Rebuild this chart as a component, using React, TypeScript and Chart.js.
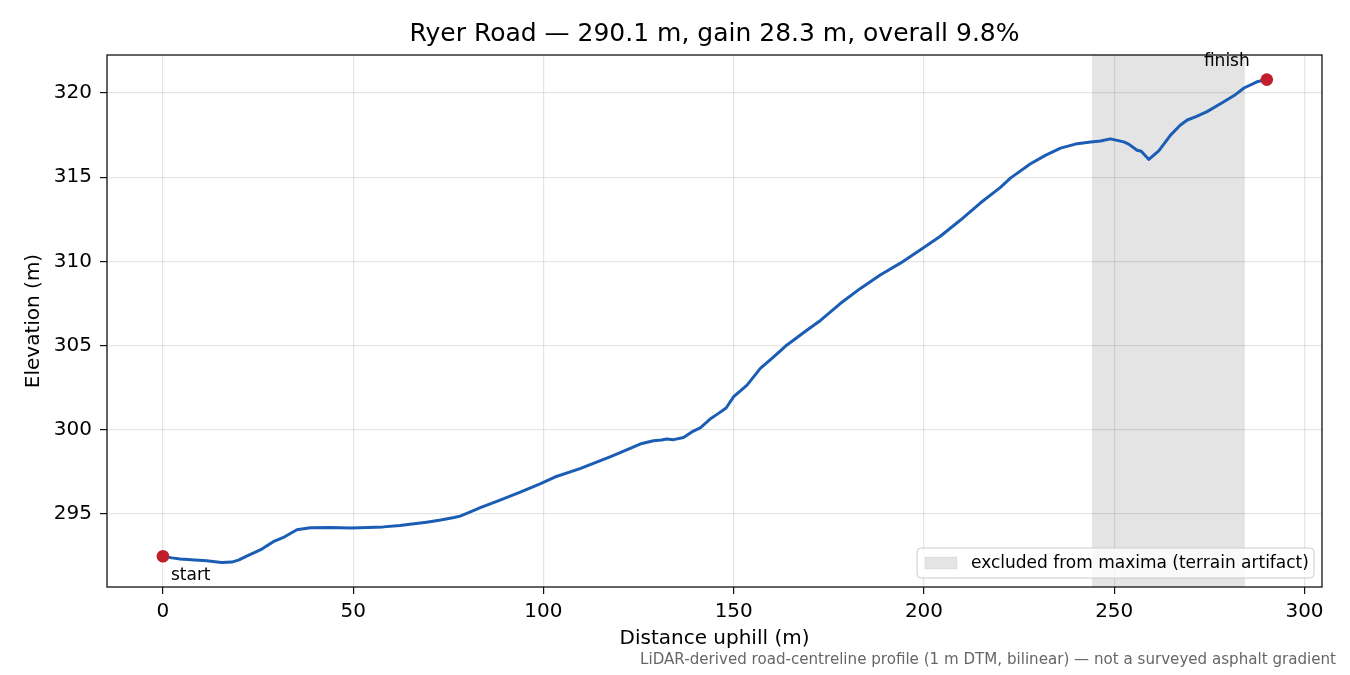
import { FC, useEffect, useRef } from 'react';
import Chart, { ChartConfiguration, Plugin } from 'chart.js/auto';

// profile (distance uphill m, elevation m)
const distance = [
  0, 2.4, 4.5, 8.4, 11.5, 15.4, 18.1, 20, 22, 26, 29, 32, 35.2, 38.7, 44, 49.2, 54, 57.9, 62.3, 66,
  69.3, 73, 76.5, 78.1, 80.5, 83.4, 88.6, 93.9, 99.1, 103, 109.6, 117.5, 122.8, 125.4, 128.9, 131,
  132.4, 134.2, 136.8, 139.4, 141.2, 143.8, 146, 148, 150, 153.5, 157, 160.5, 164, 169.3, 172.8,
  178, 183.3, 188.5, 193.8, 199, 204.3, 209.6, 214.8, 220.1, 222.7, 228, 231.9, 235.9, 239.8,
  243.8, 246.4, 249, 252.5, 253.8, 256, 257.1, 259.1, 261.7, 264.8, 267.4, 269.2, 271.5, 274.4,
  278.8, 281.5, 284.1, 287.5, 290.1,
];
const elevation = [
  292.5, 292.4, 292.33, 292.27, 292.23, 292.13, 292.15, 292.28, 292.5, 292.92, 293.36, 293.65,
  294.07, 294.19, 294.2, 294.17, 294.2, 294.24, 294.32, 294.42, 294.52, 294.65, 294.8, 294.88,
  295.1, 295.38, 295.83, 296.3, 296.8, 297.2, 297.7, 298.4, 298.9, 299.16, 299.35, 299.4, 299.46,
  299.42, 299.55, 299.93, 300.12, 300.64, 300.98, 301.3, 301.97, 302.66, 303.65, 304.34, 305.04,
  305.93, 306.5, 307.5, 308.4, 309.2, 309.9, 310.68, 311.5, 312.46, 313.47, 314.4, 314.95, 315.8,
  316.3, 316.73, 316.97, 317.1, 317.15, 317.28, 317.1, 316.97, 316.6, 316.54, 316.06, 316.57,
  317.5, 318.1, 318.4, 318.6, 318.9, 319.48, 319.85, 320.3, 320.67, 320.8,
];
const endpointLabels = ['start', 'finish'];
const excludedRange = [244.3, 284.2];
const xTicks = [0, 50, 100, 150, 200, 250, 300];
const yTicks = [295, 300, 305, 310, 315, 320];

const titleText = 'Ryer Road — 290.1 m, gain 28.3 m, overall 9.8%';
const xLabel = 'Distance uphill (m)';
const yLabel = 'Elevation (m)';
const legendText = 'excluded from maxima (terrain artifact)';
const footnote =
  'LiDAR-derived road-centreline profile (1 m DTM, bilinear) — not a surveyed asphalt gradient';

const FONT = '"DejaVu Sans", sans-serif';
const BAND = 'rgba(0,0,0,0.105)';

const decor: Plugin<'line'> = {
  id: 'decor',
  beforeDatasetsDraw(chart) {
    const { ctx, chartArea: a, scales } = chart;
    const x0 = scales.x.getPixelForValue(excludedRange[0]);
    const x1 = scales.x.getPixelForValue(excludedRange[1]);
    ctx.save();
    ctx.fillStyle = BAND;
    ctx.fillRect(x0, a.top, x1 - x0, a.bottom - a.top);
    ctx.strokeStyle = 'rgba(0,0,0,0.06)';
    ctx.lineWidth = 1;
    ctx.beginPath();
    ctx.moveTo(x0, a.top);
    ctx.lineTo(x0, a.bottom);
    ctx.moveTo(x1, a.top);
    ctx.lineTo(x1, a.bottom);
    ctx.stroke();
    ctx.restore();
  },
  afterDatasetsDraw(chart) {
    const { ctx, chartArea: a, scales } = chart;
    ctx.save();
    // frame
    ctx.strokeStyle = '#111';
    ctx.lineWidth = 1.3;
    ctx.strokeRect(a.left, a.top, a.right - a.left, a.bottom - a.top);

    // endpoint labels
    const n = distance.length - 1;
    ctx.fillStyle = '#000';
    ctx.font = `17px ${FONT}`;
    ctx.textBaseline = 'middle';
    ctx.textAlign = 'left';
    ctx.fillText(
      endpointLabels[0],
      scales.x.getPixelForValue(distance[0]) + 8,
      scales.y.getPixelForValue(elevation[0]) + 19
    );
    ctx.textAlign = 'center';
    ctx.fillText(
      endpointLabels[1],
      scales.x.getPixelForValue(distance[n]) - 40,
      scales.y.getPixelForValue(elevation[n]) - 18
    );

    // legend
    const w = 397;
    const h = 30;
    const lx = a.right - 8 - w;
    const ly = a.bottom - 9 - h;
    ctx.beginPath();
    ctx.roundRect(lx, ly, w, h, 4);
    ctx.fillStyle = 'rgba(255,255,255,0.8)';
    ctx.fill();
    ctx.strokeStyle = '#cccccc';
    ctx.lineWidth = 1;
    ctx.stroke();
    ctx.fillStyle = BAND;
    ctx.fillRect(lx + 8, ly + 9, 32, 12);
    ctx.strokeStyle = 'rgba(0,0,0,0.06)';
    ctx.strokeRect(lx + 8, ly + 9, 32, 12);
    ctx.fillStyle = '#000';
    ctx.textAlign = 'left';
    ctx.font = `17px ${FONT}`;
    ctx.fillText(legendText, lx + 54, ly + h / 2 + 1);
    ctx.restore();
  },
  afterDraw(chart) {
    const { ctx, chartArea: a } = chart;
    const cx = (a.left + a.right) / 2;
    ctx.save();
    ctx.fillStyle = '#000';
    ctx.textAlign = 'center';
    ctx.textBaseline = 'middle';
    ctx.font = `25px ${FONT}`;
    ctx.fillText(titleText, cx, 34);
    ctx.font = `20px ${FONT}`;
    ctx.fillText(xLabel, cx, 639);
    ctx.save();
    ctx.translate(34, (a.top + a.bottom) / 2);
    ctx.rotate(-Math.PI / 2);
    ctx.fillText(yLabel, 0, 0);
    ctx.restore();
    ctx.textAlign = 'right';
    ctx.fillStyle = '#666';
    ctx.font = `15.1px ${FONT}`;
    ctx.fillText(footnote, 1336, 660);
    ctx.restore();
  },
};

const App: FC = () => {
  const chartRef = useRef<HTMLCanvasElement | null>(null);
  const chartInstance = useRef<Chart | null>(null);

  useEffect(() => {
    document.body.style.margin = '0';
    if (chartRef.current) {
      const ctx = chartRef.current.getContext('2d');
      if (ctx) {
        if (chartInstance.current) {
          chartInstance.current.destroy();
        }
        const n = distance.length - 1;
        const gridStyle = {
          color: 'rgba(0,0,0,0.1)',
          lineWidth: 1.2,
          tickColor: '#111',
          tickLength: 7,
          tickWidth: 1.2,
        };
        chartInstance.current = new Chart(ctx, {
          type: 'line',
          data: {
            datasets: [
              {
                data: distance.map((d, i) => ({ x: d, y: elevation[i] })),
                borderColor: '#1b5db5',
                borderWidth: 3,
                pointRadius: 0,
                tension: 0,
                borderJoinStyle: 'round',
                borderCapStyle: 'round',
                order: 1,
              },
              {
                data: [
                  { x: distance[0], y: elevation[0] },
                  { x: distance[n], y: elevation[n] },
                ],
                showLine: false,
                pointRadius: 6.3,
                pointBackgroundColor: '#c21d2b',
                pointBorderWidth: 0,
                order: 0,
              },
            ],
          },
          options: {
            animation: false,
            responsive: true,
            maintainAspectRatio: false,
            devicePixelRatio: 1,
            layout: { padding: { top: 55, right: 28, left: 0, bottom: 0 } },
            plugins: {
              legend: { display: false },
              tooltip: { enabled: false },
              title: { display: false },
            },
            scales: {
              x: {
                type: 'linear',
                min: -14.7,
                max: 304.6,
                afterFit: (s: any) => {
                  s.height = 88;
                },
                afterBuildTicks: (s: any) => {
                  s.ticks = xTicks.map((v) => ({ value: v }));
                },
                grid: gridStyle,
                border: { display: false },
                ticks: {
                  font: { family: FONT, size: 20 },
                  color: '#000',
                  padding: 6,
                  maxRotation: 0,
                },
              },
              y: {
                type: 'linear',
                min: 290.67,
                max: 322.26,
                afterFit: (s: any) => {
                  s.width = 107;
                },
                afterBuildTicks: (s: any) => {
                  s.ticks = yTicks.map((v) => ({ value: v }));
                },
                grid: gridStyle,
                border: { display: false },
                ticks: {
                  font: { family: FONT, size: 20 },
                  color: '#000',
                  padding: 8,
                },
              },
            },
          },
          plugins: [decor],
        } as ChartConfiguration<'line'>);
      }
    }

    return () => {
      if (chartInstance.current) {
        chartInstance.current.destroy();
        chartInstance.current = null;
      }
    };
  }, []);

  return (
    <div style={{ width: '1350px', height: '675px', position: 'relative', background: '#fff' }}>
      <canvas ref={chartRef} />
    </div>
  );
};

export default App;
